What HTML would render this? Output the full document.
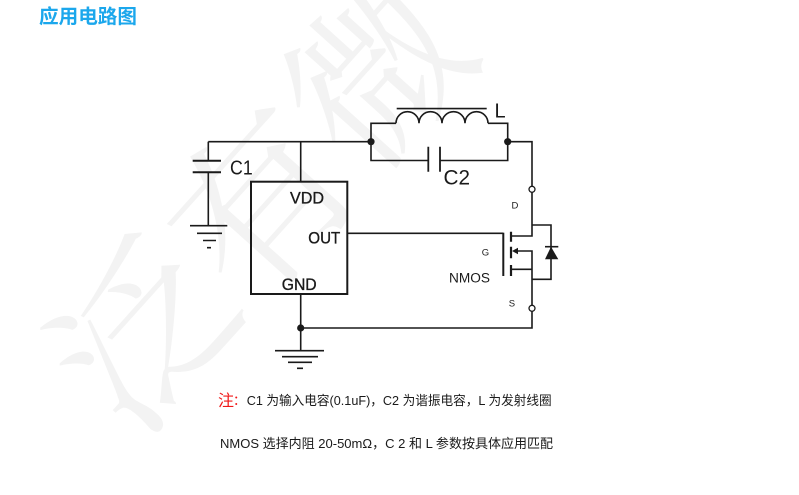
<!DOCTYPE html>
<html>
<head>
<meta charset="utf-8">
<style>
  html,body{margin:0;padding:0;background:#fff;}
  body{width:799px;height:495px;overflow:hidden;position:relative;}
  svg{position:absolute;left:0;top:0;}
</style>
</head>
<body>
<svg width="799" height="495" viewBox="0 0 799 495" xmlns="http://www.w3.org/2000/svg">
  <!-- watermark -->
  <text x="0" y="0" transform="translate(275,215) rotate(-48)" text-anchor="middle" dominant-baseline="middle"
        font-family="'Noto Serif CJK SC', 'WenQuanYi Zen Hei', serif" font-size="175" fill="#f3f3f3">泛有微</text>

  <!-- title -->
  <text x="39" y="23" font-family="'Liberation Sans','Noto Sans CJK SC',sans-serif" font-weight="bold" font-size="19.5" fill="#1ba7ec" textLength="98" lengthAdjust="spacingAndGlyphs">应用电路图</text>

  <g stroke="#1a1a1a" stroke-width="1.6" fill="none" stroke-linecap="butt">
    <!-- top wire -->
    <path d="M208.3,141.7 H371"/>
    <!-- C1 branch -->
    <path d="M208.3,141.7 V160.7"/>
    <path d="M192.7,160.7 H221 M192.7,172.3 H221" stroke-width="2"/>
    <path d="M208.3,172.3 V225.7"/>
    <!-- C1 ground -->
    <path d="M190,225.7 H227.3 M197,233.3 H222 M203,240.5 H216 M207,247.7 H211"/>
    <!-- VDD wire -->
    <path d="M300.7,141.7 V181.7"/>
    <!-- IC box -->
    <rect x="251" y="181.7" width="96.3" height="112.3" stroke-width="2"/>
    <!-- GND wire -->
    <path d="M300.7,294 V350.7"/>
    <!-- bottom ground -->
    <path d="M275,350.7 H324 M282,356.7 H318 M288,362.3 H312 M297,368.3 H303"/>
    <!-- bottom return wire -->
    <path d="M300.7,328 H532 V311.3"/>
    <!-- L / C2 tank -->
    <path d="M371,141.7 V123.3 H396"/>
    <path d="M396,123.3 A11.5,11.6 0 0 1 419,123.3 A11.5,11.6 0 0 1 442,123.3 A11.5,11.6 0 0 1 465,123.3 A11.5,11.6 0 0 1 488,123.3"/>
    <path d="M488,123.3 H507.7 V160.5 H440"/>
    <path d="M371,141.7 V160.5 H428.3"/>
    <path d="M428.3,146.7 V171.7 M440,146.7 V171.7" stroke-width="1.8"/>
    <!-- core line -->
    <path d="M396.7,108.6 H486.7"/>
    <!-- right wire to drain -->
    <path d="M507.7,141.7 H532 V186.3"/>
    <path d="M532,192.3 V236 H511"/>
    <!-- diode branch -->
    <path d="M532,225 H551 V279.3 H532"/>
    <path d="M545,246.7 H558.3"/>
    <!-- source structure -->
    <path d="M516,251 H532 V305.3"/>
    <path d="M511,269.3 H532"/>
    <!-- gate wire -->
    <path d="M348,233.3 H503.3"/>
    <path d="M503.3,232.7 V276" stroke-width="2"/>
    <!-- channel segments -->
    <path d="M511,231.7 V241.7 M511,246.7 V258.3 M511,265 V276" stroke-width="2.2"/>
  </g>
  <!-- arrow on mosfet -->
  <polygon points="512,251 518,247.8 518,254.2" fill="#1a1a1a"/>
  <!-- diode triangle -->
  <polygon points="551,246.7 545,259.3 558.3,259.3" fill="#1a1a1a"/>
  <!-- junction dots -->
  <circle cx="371" cy="141.7" r="3.6" fill="#1a1a1a"/>
  <circle cx="507.7" cy="141.7" r="3.6" fill="#1a1a1a"/>
  <circle cx="300.7" cy="328" r="3.6" fill="#1a1a1a"/>
  <!-- open terminals -->
  <circle cx="532" cy="189.3" r="3" fill="#fff" stroke="#1a1a1a" stroke-width="1.3"/>
  <circle cx="532" cy="308.3" r="3" fill="#fff" stroke="#1a1a1a" stroke-width="1.3"/>

  <!-- labels -->
  <g font-family="'Liberation Sans','DejaVu Sans',sans-serif" fill="#1a1a1a">
    <text x="230" y="174.3" font-size="20" textLength="22.7" lengthAdjust="spacingAndGlyphs">C1</text>
    <text x="443.5" y="184.5" font-size="21" textLength="26.5" lengthAdjust="spacingAndGlyphs">C2</text>
    <text x="494.5" y="117.5" font-size="20">L</text>
    <text x="290" y="203.3" font-size="17" textLength="34" lengthAdjust="spacingAndGlyphs" stroke="#1a1a1a" stroke-width="0.35">VDD</text>
    <text x="308.3" y="243.3" font-size="17" textLength="32" lengthAdjust="spacingAndGlyphs" stroke="#1a1a1a" stroke-width="0.35">OUT</text>
    <text x="281.7" y="290" font-size="17" textLength="35" lengthAdjust="spacingAndGlyphs" stroke="#1a1a1a" stroke-width="0.35">GND</text>
    <text x="511.5" y="208.3" font-size="9.5">D</text>
    <text x="481.8" y="255.7" font-size="9.5">G</text>
    <text x="508.8" y="306.7" font-size="9.5">S</text>
    <text x="449" y="282.3" font-size="13.5" textLength="41" lengthAdjust="spacingAndGlyphs">NMOS</text>
  </g>

  <!-- notes -->
  <g font-family="'Liberation Sans','Noto Sans CJK SC',sans-serif" fill="#1a1a1a">
    <text x="218" y="406" font-size="16" fill="#f01818">注</text>
    <text x="233" y="405" font-size="13" fill="#f01818">：</text>
    <text x="246.7" y="405" font-size="12.8" textLength="305" lengthAdjust="spacingAndGlyphs">C1 为输入电容(0.1uF)，C2 为谐振电容，L 为发射线圈</text>
    <text x="220" y="448" font-size="13.2" textLength="333" lengthAdjust="spacingAndGlyphs">NMOS 选择内阻 20-50mΩ，C 2 和 L 参数按具体应用匹配</text>
  </g>
</svg>
</body>
</html>
